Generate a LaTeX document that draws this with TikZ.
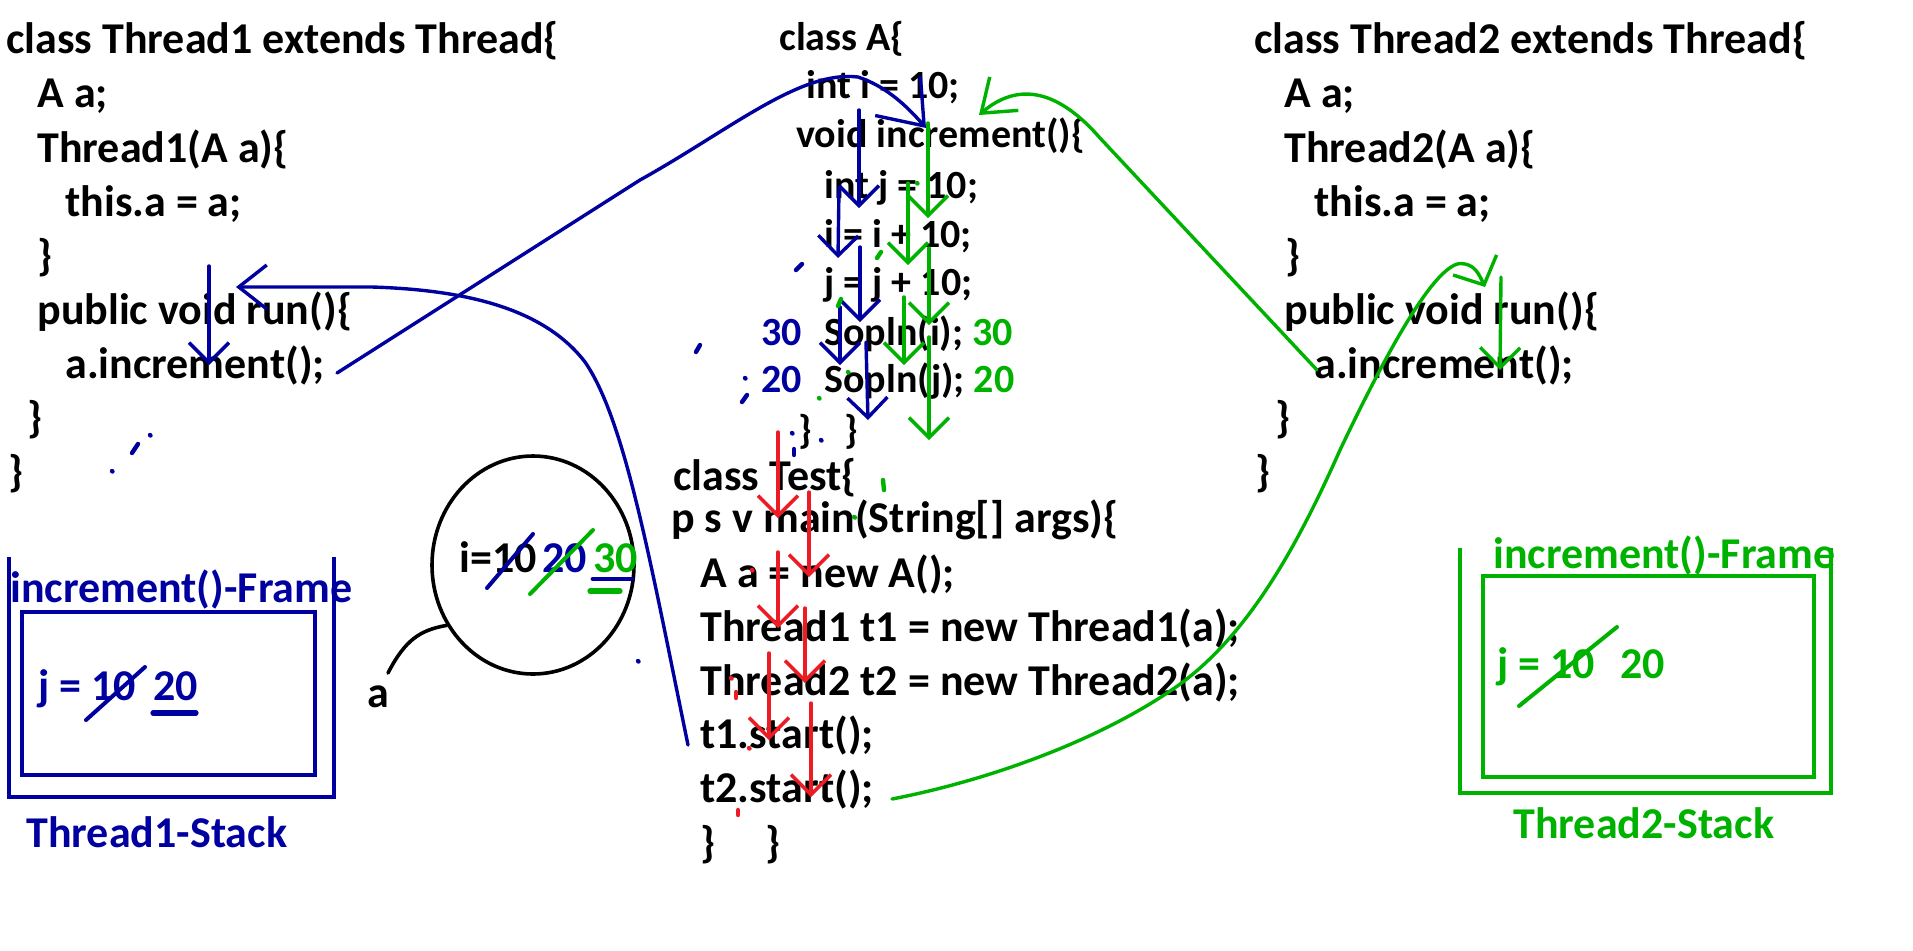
\documentclass[tikz,border=0pt]{standalone}
\usepackage{fontspec}
\setmainfont{Carlito}
\usetikzlibrary{arrows.meta,shapes.geometric}
\definecolor{penblue}{RGB}{0,0,160}
\definecolor{pengreen}{RGB}{0,178,0}
\definecolor{penred}{RGB}{237,28,36}

\begin{document}
\begin{tikzpicture}[x=0.5pt,y=-0.5pt,
  code/.style={anchor=base west,inner sep=0pt,font=\bfseries\fontsize{22}{26}\selectfont},
  codeA/.style={anchor=base west,inner sep=0pt,font=\bfseries\fontsize{20}{24}\selectfont},
  pen/.style={line width=1.7pt,line cap=round,line join=round},
  bluepen/.style={pen,penblue},
  greenpen/.style={pen,pengreen},
  redpen/.style={pen,penred},
  blackpen/.style={pen,black,line width=1.8pt},
  tick/.style={-{Straight Barb[length=10pt,width=20pt]}},
  box/.style={line width=2.2pt,line join=miter},
  strike/.style={line width=2pt,line cap=round},
  dot/.style={line width=2.2pt,line cap=round}
]
\path[fill=white,use as bounding box] (0,0) rectangle (1913,950);

% ---------------- class Thread1 ----------------
\node[code] (t1l1) at (6,53) {class Thread1 extends Thread\{};
\node[code] (t1l2) at (37,107) {A a;};
\node[code] (t1l3) at (37,162) {Thread1(A a)\{};
\node[code] (t1l4) at (65,216) {this.a = a;};
\node[code] (t1l5) at (37,270) {\}};
\node[code] (t1l6) at (37,324) {public void run()\{};
\node[code] (t1l7) at (65,378) {a.increment();};
\node[code] (t1l8) at (27,432) {\}};
\node[code] (t1l9) at (8,486) {\}};

% ---------------- class Thread2 ----------------
\node[code] (t2l1) at (1254,53) {class Thread2 extends Thread\{};
\node[code] (t2l2) at (1284,107) {A a;};
\node[code] (t2l3) at (1284,162) {Thread2(A a)\{};
\node[code] (t2l4) at (1314,216) {this.a = a;};
\node[code] (t2l5) at (1285,270) {\}};
\node[code] (t2l6) at (1284,324) {public void run()\{};
\node[code] (t2l7) at (1314,378) {a.increment();};
\node[code] (t2l8) at (1275,432) {\}};
\node[code] (t2l9) at (1255,486) {\}};

% ---------------- class A ----------------
\node[codeA] (al1) at (779,50) {class A\{};
\node[codeA] (al2) at (806,98) {int i = 10;};
\node[codeA] (al3) at (796,147) {void increment()\{};
\node[codeA] (al4) at (824,198) {int j = 10;};
\node[codeA] (al5) at (824,247) {i = i + 10;};
\node[codeA] (al6) at (824,295) {j = j + 10;};
\node[codeA] (al7) at (824,345) {Sopln(i); \textcolor{pengreen}{30}};
\node[codeA] (al8) at (824,392) {Sopln(j); \textcolor{pengreen}{20}};
\node[codeA] (al9) at (798,443) {\}};
\node[codeA] (al10) at (844,443) {\}};
\node[codeA,text=penblue] (out30) at (761,345) {30};
\node[codeA,text=penblue] (out20) at (761,392) {20};

% ---------------- class Test ----------------
\node[code] (tl1) at (673,490) {class Test\{};
\node[code] (tl2) at (671,532) {p s v main(String[] args)\{};
\node[code] (tl3) at (700,587) {A a = new A();};
\node[code] (tl4) at (700,641) {Thread1 t1 = new Thread1(a);};
\node[code] (tl5) at (700,695) {Thread2 t2 = new Thread2(a);};
\node[code] (tl6) at (700,748) {t1.start();};
\node[code] (tl7) at (700,802) {t2.start();};
\node[code] (tl8) at (700,857) {\}};
\node[code] (tl9) at (765,857) {\}};

% ---------------- heap object ----------------
\node[draw,ellipse,line width=1.8pt,minimum width=101pt,minimum height=109pt,inner sep=0pt] (heap) at (533,565) {};
\node[code] (iv) at (459,572) {i=10};
\node[code,text=penblue] (iv20) at (542,572) {20};
\node[code,text=pengreen] (iv30) at (593,572) {30};
\draw[strike,penblue] (487,588) -- (533,534);
\draw[strike,pengreen] (530,594) -- (593,530);
\draw[strike,penblue,line width=2.4pt] (593,579) -- (632,579);
\draw[strike,pengreen,line width=2.6pt] (590,591) -- (620,591);
\node[code] (aref) at (367,707) {a};
\coordinate (arefend) at (388,673);
\draw[blackpen] (heap.215) .. controls (420,630) and (405,640) .. (arefend);

% ---------------- Thread1 stack ----------------
\draw[box,penblue] (9,557) -- (9,797) -- (334,797) -- (334,557);
\draw[box,penblue] (22,612) rectangle (315,775);
\node[code,text=penblue] (f1title) at (10,602) {increment()-Frame};
\node[code,text=penblue] (f1j) at (38,700) {j = 10};
\node[code,text=penblue] (f1j20) at (153,700) {20};
\draw[strike,penblue] (86,720) -- (145,667);
\draw[strike,penblue,line width=2.6pt] (153,713) -- (196,713);
\node[code,text=penblue] (s1title) at (26,847) {Thread1-Stack};

% ---------------- Thread2 stack ----------------
\draw[box,pengreen] (1460,548) -- (1460,793) -- (1831,793) -- (1831,548);
\draw[box,pengreen] (1483,576) rectangle (1814,777);
\node[code,text=pengreen] (f2title) at (1493,568) {increment()-Frame};
\node[code,text=pengreen] (f2j) at (1497,678) {j = 10};
\node[code,text=pengreen] (f2j20) at (1620,678) {20};
\draw[strike,pengreen] (1519,706) -- (1617,627);
\node[code,text=pengreen] (s2title) at (1513,838) {Thread2-Stack};

% ---------------- thread 1 flow (blue) ----------------
\coordinate (t1go) at (688,745);
\coordinate (t1run) at (236,287);
\draw[bluepen,-{Straight Barb[length=14pt,width=22pt]}] (t1go) .. controls (650,560) and (625,420) .. (585,362)
   .. controls (545,310) and (470,290) .. (372,287) -- (t1run);
\coordinate (t1call) at (337,373);
\coordinate (t1enter) at (926,128);
\draw[bluepen,-{Straight Barb[length=20pt,width=30pt]}] (t1call) -- (640,180)
   .. controls (730,130) and (800,70) .. (858,77)
   .. controls (885,86) and (905,104) .. (t1enter);
\draw[bluepen,tick] (209,266) -- (209,365);
\draw[bluepen,tick] (859,110) -- (859,208);
\draw[bluepen,tick] (839,188) -- (838,258);
\draw[bluepen,tick] (860,247) -- (860,322);
\draw[bluepen,tick] (840,307) -- (840,365);
\draw[bluepen,tick] (866,342) -- (868,420);

% ---------------- thread 2 flow (green) ----------------
\coordinate (t2go) at (892,799);
\coordinate (t2run) at (1485,287);
\draw[greenpen,-{Straight Barb[length=11pt,width=24pt]}] (t2go) .. controls (990,780) and (1100,740) .. (1176,687)
   .. controls (1250,635) and (1300,540) .. (1340,450)
   .. controls (1390,345) and (1440,255) .. (1465,264)
   .. controls (1475,266) and (1479,274) .. (t2run);
\coordinate (t2call) at (1317,370);
\coordinate (t2enter) at (979,115);
\draw[greenpen,-{Straight Barb[length=15pt,width=22pt]}] (t2call) -- (1100,138)
   .. controls (1060,92) and (1020,80) .. (t2enter);
\draw[greenpen,tick] (1501,277) -- (1500,370);
\draw[greenpen,tick] (928,123) -- (928,218);
\draw[greenpen,tick] (908,183) -- (908,265);
\draw[greenpen,tick] (929,248) -- (929,325);
\draw[greenpen,tick] (904,297) -- (904,365);
\draw[greenpen,tick] (929,337) -- (929,440);

% ---------------- main thread flow (red) ----------------
\draw[redpen,tick] (778,432) -- (778,518);
\draw[redpen,tick] (809,492) -- (809,577);
\draw[redpen,tick] (778,552) -- (778,628);
\draw[redpen,tick] (805,608) -- (805,683);
\draw[redpen,tick] (769,653) -- (769,740);
\draw[redpen,tick] (811,703) -- (811,797);

% ---------------- stray pen marks ----------------
\draw[dot,penblue] (150,435) -- (150.5,435.5);
\draw[dot,penblue] (132,453) -- (138,444);
\draw[dot,penblue] (112,471) -- (112.5,471.5);
\draw[dot,penblue] (638,661) -- (638.5,661.5);
\draw[dot,penblue] (796,270) -- (802,264);
\draw[dot,penblue] (696,352) -- (700,345);
\draw[dot,penblue] (745,378) -- (745.5,378.5);
\draw[dot,penblue] (742,402) -- (747,395);
\draw[dot,penblue] (792,433) -- (792.5,433.5);
\draw[dot,penblue] (821,440) -- (821.5,440.5);
\draw[dot,penblue] (794,449) -- (794,455);
\draw[dot,pengreen] (917,183) -- (917.5,183.5);
\draw[dot,pengreen] (877,258) -- (881,252);
\draw[dot,pengreen] (838,306) -- (841,299);
\draw[dot,pengreen] (848,372) -- (848.5,372.5);
\draw[dot,pengreen] (819,398) -- (819.5,398.5);
\draw[dot,pengreen] (883,480) -- (884,490);
\draw[dot,pengreen] (854,517) -- (855,517.5);
\draw[dot,penred] (752,570) -- (752.5,570.5);
\draw[dot,penred] (731,678) -- (731.5,678.5);
\draw[dot,penred] (736,692) -- (736,698);
\draw[dot,penred] (749,748) -- (749.5,748.5);
\draw[dot,penred] (738,810) -- (738,815);
\end{tikzpicture}
\end{document}
